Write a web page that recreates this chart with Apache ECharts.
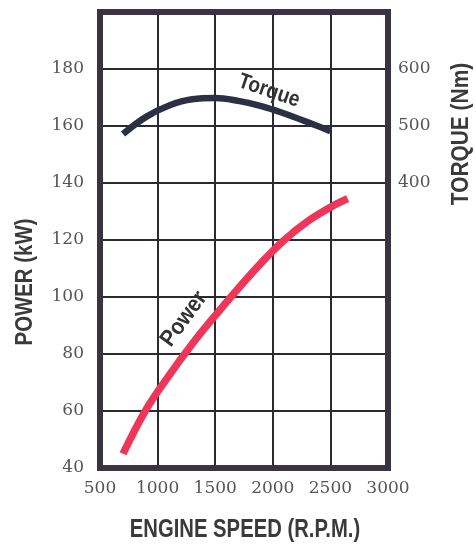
<!DOCTYPE html>
<html>
<head>
<meta charset="utf-8">
<script src="https://cdn.jsdelivr.net/npm/echarts@6/dist/echarts.min.js"></script>
<style>html,body{margin:0;padding:0;background:#fff;}#c{width:476px;height:547px;}</style>
</head>
<body>
<div id="c"></div>
<script>
const rpmTicks = [500, 1000, 1500, 2000, 2500, 3000];
const torqueRpm = [700, 900, 1100, 1300, 1500, 1700, 1900, 2100, 2300, 2500];
const torqueNm  = [486, 516, 536, 547, 549, 544, 535, 522, 507, 491];
const powerRpm  = [700, 900, 1100, 1300, 1500, 1700, 1900, 2100, 2300, 2500, 2650];
const powerKw   = [45, 60.5, 72.5, 83.5, 93.5, 103, 112, 120, 126.5, 131.5, 134.5];

const chart = echarts.init(document.getElementById('c'));
const sans = '"Liberation Sans", Arial, sans-serif';
const serif = '"DejaVu Serif", "Liberation Serif", serif';

function label(text, x, y, rot, size, sx, color) {
  return { type: 'text', x: x, y: y, rotation: rot, scaleX: sx, z: 10,
    style: { text: text, font: 'bold ' + size + 'px ' + sans, fill: color, align: 'center', verticalAlign: 'middle' } };
}

chart.setOption({
  backgroundColor: '#ffffff',
  animation: false,
  grid: { left: 100, right: 88, top: 12, bottom: 79, show: true, borderWidth: 6, borderColor: '#3a3442', backgroundColor: 'transparent', z: 5 },
  xAxis: {
    type: 'value', min: 500, max: 3000, interval: 500,
    axisLine: { show: false }, axisTick: { show: false },
    splitLine: { show: true, lineStyle: { color: '#2a2a32', width: 2 } },
    axisLabel: { margin: 12, color: '#555', fontFamily: serif, fontSize: 17, formatter: v => String(v) }
  },
  yAxis: [
    {
      type: 'value', min: 40, max: 200, interval: 20,
      axisLine: { show: false }, axisTick: { show: false },
      splitLine: { show: true, lineStyle: { color: '#2a2a32', width: 2 } },
      axisLabel: { margin: 16, color: '#555', fontFamily: serif, fontSize: 17,
        formatter: v => v >= 200 ? '' : String(v) }
    },
    {
      type: 'value', min: -100, max: 700, interval: 100, position: 'right',
      axisLine: { show: false }, axisTick: { show: false }, splitLine: { show: false },
      axisLabel: { margin: 10, color: '#555', fontFamily: serif, fontSize: 17,
        formatter: v => (v >= 400 && v <= 600) ? String(v) : '' }
    }
  ],
  series: [
    {
      type: 'line', yAxisIndex: 1, smooth: 0.4, showSymbol: false, z: 3,
      lineStyle: { color: '#2b3142', width: 6.5, cap: 'butt' },
      data: torqueRpm.map((r, i) => [r, torqueNm[i]])
    },
    {
      type: 'line', yAxisIndex: 0, smooth: 0.4, showSymbol: false, z: 3,
      lineStyle: { color: '#ef3659', width: 7.5, cap: 'butt' },
      data: powerRpm.map((r, i) => [r, powerKw[i]])
    }
  ],
  graphic: [
    label('Torque', 269, 91, -0.33, 22, 0.87, '#333'),
    label('Power', 184, 319, 0.94, 23, 0.9, '#333'),
    label('POWER (kW)', 25, 282, Math.PI / 2, 24, 0.85, '#3a3a3a'),
    label('TORQUE (Nm)', 461, 134, Math.PI / 2, 24, 0.87, '#3a3a3a'),
    label('ENGINE SPEED (R.P.M.)', 245, 530, 0, 25, 0.81, '#3a3a3a')
  ]
});
</script>
</body>
</html>
